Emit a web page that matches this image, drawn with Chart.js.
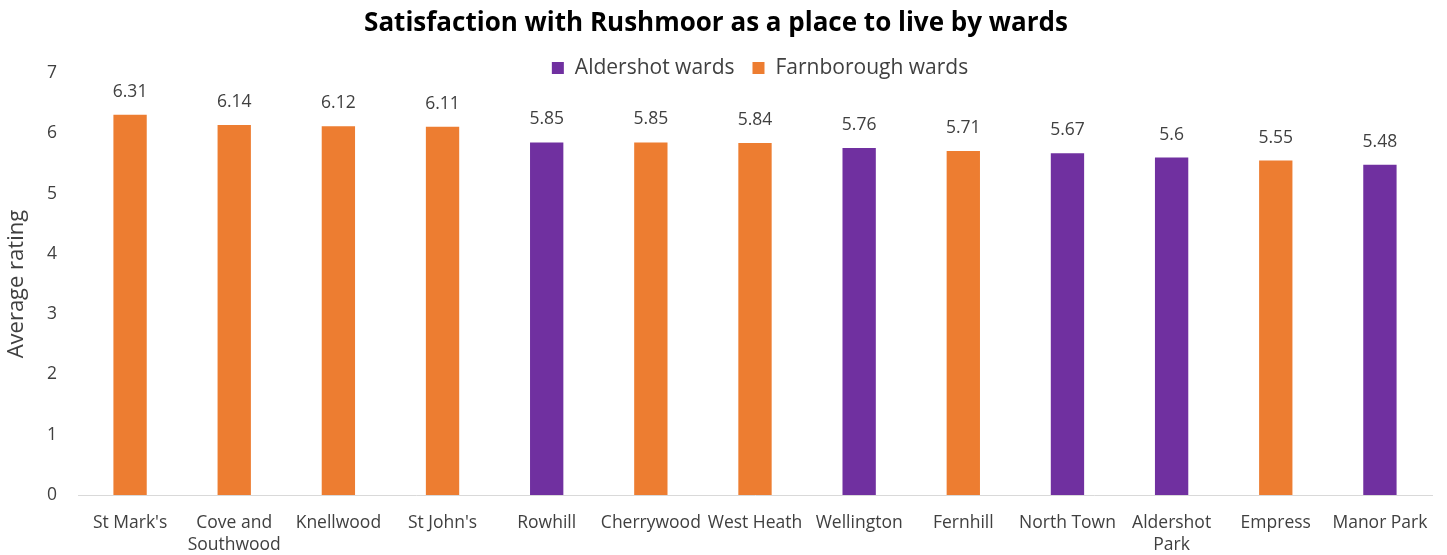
<!DOCTYPE html>
<html>
<head>
<meta charset="utf-8">
<script src="https://cdn.jsdelivr.net/npm/chart.js@4/dist/chart.umd.min.js"></script>
<style>
  html, body { margin: 0; padding: 0; background: #fff; }
  #wrap { width: 1447px; height: 555px; }
</style>
</head>
<body>
<div id="wrap"><canvas id="wardChart"></canvas></div>
<script>
// Chart data
const wards = [
  "St Mark's", ["Cove and", "Southwood"], "Knellwood", "St John's", "Rowhill",
  "Cherrywood", "West Heath", "Wellington", "Fernhill", "North Town",
  ["Aldershot", "Park"], "Empress", "Manor Park"
];
const aldershot = [null, null, null, null, 5.85, null, null, 5.76, null, 5.67, 5.6, null, 5.48];
const farnborough = [6.31, 6.14, 6.12, 6.11, null, 5.85, 5.84, null, 5.71, null, null, 5.55, null];
const yTicks = [0, 1, 2, 3, 4, 5, 6, 7];

const FONT = "'Open Sans', 'Noto Sans', sans-serif";
const TEXT = "#404040";

// Value labels above each bar
const barLabels = {
  id: "barLabels",
  afterDatasetsDraw(chart) {
    const { ctx } = chart;
    ctx.save();
    ctx.font = `17.5px ${FONT}`;
    ctx.fillStyle = TEXT;
    ctx.textAlign = "center";
    ctx.textBaseline = "middle";
    chart.data.datasets.forEach((ds, i) => {
      chart.getDatasetMeta(i).data.forEach((bar, j) => {
        if (ds.data[j] == null) return;
        ctx.fillText(String(ds.data[j]), bar.x, bar.y - 23);
      });
    });
    ctx.restore();
  }
};

// Legend drawn inside the plot area, like the original
const topLegend = {
  id: "topLegend",
  afterDraw(chart) {
    const { ctx } = chart;
    const box = 12, gap = 11, spacing = 18;
    ctx.save();
    ctx.font = `21px ${FONT}`;
    ctx.textBaseline = "middle";
    const items = chart.data.datasets.map((ds) => ({
      text: ds.label,
      color: ds.backgroundColor,
      w: box + gap + ctx.measureText(ds.label).width
    }));
    const total = items.reduce((a, it) => a + it.w, 0) + spacing * (items.length - 1);
    let x = 760 - total / 2;
    const y = 68;
    items.forEach((it) => {
      ctx.fillStyle = it.color;
      ctx.fillRect(x, y - box / 2, box, box);
      ctx.fillStyle = TEXT;
      ctx.fillText(it.text, x + box + gap, y);
      x += it.w + spacing;
    });
    ctx.restore();
  }
};

new Chart(document.getElementById("wardChart").getContext("2d"), {
  type: "bar",
  data: {
    labels: wards,
    datasets: [
      { label: "Aldershot wards", data: aldershot, backgroundColor: "#7030A0" },
      { label: "Farnborough wards", data: farnborough, backgroundColor: "#ED7D31" }
    ]
  },
  options: {
    responsive: true,
    maintainAspectRatio: false,
    animation: false,
    layout: { padding: { left: 0, right: 15, top: 0, bottom: 0 } },
    datasets: {
      bar: { grouped: false, barPercentage: 0.32, categoryPercentage: 1 }
    },
    plugins: {
      legend: { display: false },
      tooltip: { enabled: false },
      title: {
        display: true,
        text: "Satisfaction with Rushmoor as a place to live by wards",
        color: "#000",
        font: { family: FONT, size: 26, weight: "bold", lineHeight: 1.2 },
        padding: { top: 8, bottom: 34 }
      }
    },
    scales: {
      x: {
        grid: { display: false, drawTicks: false },
        border: { color: "#d9d9d9", width: 1 },
        afterFit: (scale) => { scale.height = 60; },
        ticks: {
          color: TEXT,
          font: { family: FONT, size: 17.5, lineHeight: 1.25 },
          maxRotation: 0,
          autoSkip: false,
          padding: 17
        }
      },
      y: {
        min: 0,
        max: 7,
        grid: { display: false, drawTicks: false },
        border: { display: false },
        afterFit: (scale) => { scale.width = 78; },
        afterBuildTicks: (scale) => {
          scale.ticks = yTicks.map((v) => ({ value: v }));
        },
        ticks: {
          color: TEXT,
          font: { family: FONT, size: 17.5 },
          padding: 21
        },
        title: {
          display: true,
          text: "Average rating",
          color: TEXT,
          font: { family: FONT, size: 22 },
          padding: { top: 4, bottom: 6 }
        }
      }
    }
  },
  plugins: [barLabels, topLegend]
});
</script>
</body>
</html>
